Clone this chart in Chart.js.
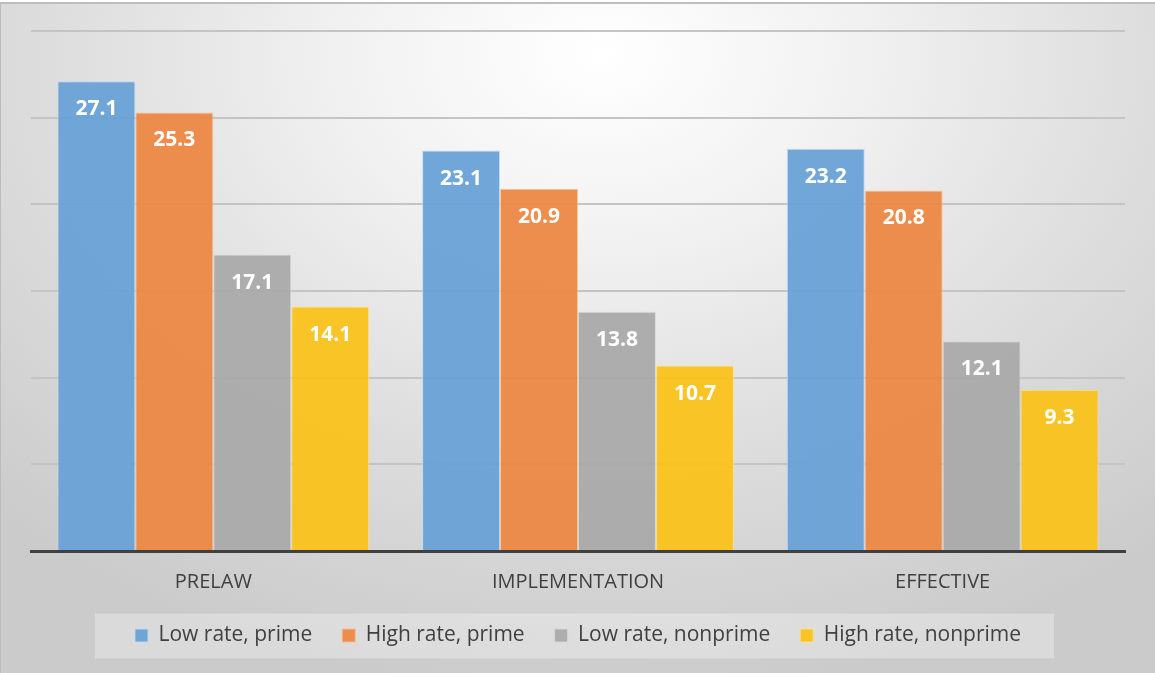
<!DOCTYPE html>
<html>
<head>
<meta charset="utf-8">
<script src="https://cdn.jsdelivr.net/npm/chart.js@4"></script>
<style>
    html, body {margin: 0; padding: 0; background: #fff;}
    #wrap {
        position  : relative;
        width     : 1155px;
        height    : 673px;
        background: radial-gradient(ellipse 75% 95% at 52% 8%, #ffffff 0%, #f1f1f1 30%, #dedede 62%, #cbcbcb 100%);
    }
    #topline {position: absolute; left: 0; top: 0; width: 1155px; height: 2px; background: #fff; border-bottom: 2px solid #bdbdbd;}
    #leftline {position: absolute; left: 0; top: 4px; width: 1px; height: 669px; background: #bcbcbc;}
    canvas {position: absolute; left: 0; top: 0;}
</style>
</head>
<body>
<div id="wrap">
    <canvas id="chart_rates" width="1155" height="673"></canvas>
    <div id="topline"></div>
    <div id="leftline"></div>
</div>
<script>
const categories = ['PRELAW', 'IMPLEMENTATION', 'EFFECTIVE'];
const seriesNames = ['Low rate, prime', 'High rate, prime', 'Low rate, nonprime', 'High rate, nonprime'];
const lowPrime = [27.1, 23.1, 23.2];
const highPrime = [25.3, 20.9, 20.8];
const lowNonprime = [17.1, 13.8, 12.1];
const highNonprime = [14.1, 10.7, 9.3];
const yTicks = [0, 5, 10, 15, 20, 25, 30];

const fillColors = [
    'rgba(105, 162, 214, 0.95)',
    'rgba(236, 135, 68,  0.95)',
    'rgba(170, 170, 170, 0.95)',
    'rgba(250, 194, 26,  0.95)',
];
const edgeColors = [
    'rgba(190, 215, 240, 0.9)',
    'rgba(248, 190, 150, 0.9)',
    'rgba(215, 215, 215, 0.9)',
    'rgba(253, 225, 140, 0.9)',
];

// white value labels inside the top of each bar
const barLabels = {
    id: 'barLabels',
    afterDatasetsDraw(chart) {
        const ctx = chart.ctx;
        ctx.save();
        ctx.fillStyle = '#ffffff';
        ctx.font = 'bold 21px "Open Sans"';
        ctx.textAlign = 'center';
        ctx.textBaseline = 'middle';
        chart.data.datasets.forEach((ds, i) => {
            chart.getDatasetMeta(i).data.forEach((bar, j) => {
                ctx.fillText(ds.data[j].toFixed(1), bar.x, bar.y + 28);
            });
        });
        ctx.restore();
    },
};

// lighter panel behind the legend
const legendPanel = {
    id: 'legendPanel',
    beforeDraw(chart) {
        const boxes = chart.legend.legendHitBoxes;
        if (!boxes || !boxes.length) return;
        const first = boxes[0], last = boxes[boxes.length - 1];
        const cy = first.top + first.height / 2;
        const ctx = chart.ctx;
        ctx.save();
        ctx.fillStyle = 'rgba(255, 255, 255, 0.3)';
        ctx.fillRect(first.left - 40, cy - 22, last.left + last.width + 33 - (first.left - 40), 45);
        ctx.restore();
    },
};

const seriesData = [lowPrime, highPrime, lowNonprime, highNonprime];

new Chart(document.getElementById('chart_rates'), {
    type   : 'bar',
    data   : {
        labels  : categories,
        datasets: seriesNames.map((name, i) => ({
            label          : name,
            data           : seriesData[i],
            backgroundColor: fillColors[i],
            borderColor    : edgeColors[i],
            borderWidth    : 1,
        })),
    },
    options: {
        responsive        : false,
        animation         : false,
        categoryPercentage: 0.855,
        barPercentage     : 1,
        layout            : {padding: {left: 31, right: 30, top: 31, bottom: 17}},
        plugins           : {
            legend : {
                position: 'bottom',
                labels  : {
                    boxWidth : 13,
                    boxHeight: 13,
                    padding  : 30,
                    color    : '#404040',
                    font     : {family: 'Open Sans', size: 21},
                },
            },
            tooltip: {enabled: false},
        },
        scales            : {
            y: {
                min     : yTicks[0],
                max     : yTicks[yTicks.length - 1],
                afterBuildTicks: scale => { scale.ticks = yTicks.map(v => ({value: v})); },
                afterFit: scale => { scale.width = 0; },
                ticks   : {display: false},
                border  : {display: false},
                grid    : {color: '#c4c4c4', lineWidth: 2, drawTicks: false},
            },
            x: {
                afterFit: scale => { scale.height = 44; },
                grid    : {display: false, drawTicks: false},
                border  : {color: '#404040', width: 3},
                ticks   : {color: '#404040', padding: 21, font: {family: 'Open Sans', size: 20, lineHeight: 1}},
            },
        },
    },
    plugins: [legendPanel, barLabels],
});
</script>
</body>
</html>
